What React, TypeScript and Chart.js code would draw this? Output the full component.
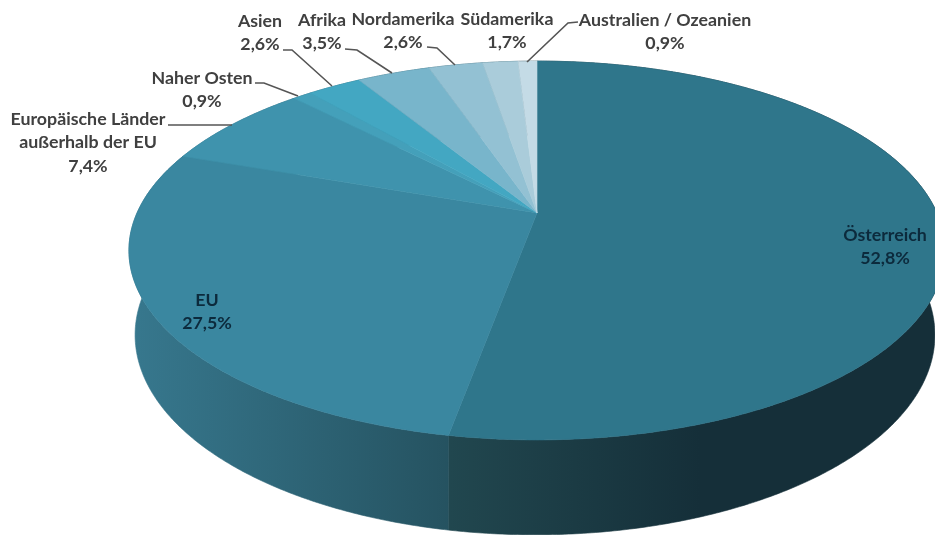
import React, { useEffect, useRef } from "react";
import { Chart, registerables } from "chart.js";

Chart.register(...registerables);

const categories = ["Österreich", "EU", "Europäische Länder außerhalb der EU", "Naher Osten", "Asien", "Afrika", "Nordamerika", "Südamerika", "Australien / Ozeanien"];
const shares = [52.8, 27.5, 7.4, 0.9, 2.6, 3.5, 2.6, 1.7, 0.9];
const topColors = ["#2f768b", "#3a87a0", "#3f93ad", "#44a0ba", "#43a7c2", "#78b5cb", "#93c1d3", "#aaccda", "#c4dbe6"];
const sideLeft = ["#21474f", "#37788e", "#37788e", "#37788e", "#37788e", "#37788e", "#37788e", "#37788e", "#21474f"];
const sideRight = ["#152f39", "#255260", "#255260", "#255260", "#255260", "#255260", "#255260", "#255260", "#152f39"];

type Lbl = { lines: string[]; x: number; y: number; inside?: boolean };
const labels: Lbl[] = [
  { lines: ["Österreich", "52,8%"], x: 885, y: 235, inside: true },
  { lines: ["EU", "27,5%"], x: 207, y: 300, inside: true },
  { lines: ["Europäische Länder", "außerhalb der EU", "7,4%"], x: 88, y: 119 },
  { lines: ["Naher Osten", "0,9%"], x: 202, y: 78 },
  { lines: ["Asien", "2,6%"], x: 260, y: 21 },
  { lines: ["Afrika", "3,5%"], x: 322, y: 20 },
  { lines: ["Nordamerika", "2,6%"], x: 403, y: 19 },
  { lines: ["Südamerika", "1,7%"], x: 507, y: 19 },
  { lines: ["Australien / Ozeanien", "0,9%"], x: 665, y: 20 },
];
const leaders: number[][][] = [
  [[168, 125], [232, 125]],
  [[255, 83], [264, 83], [298, 96]],
  [[283, 50], [292, 50], [332, 86]],
  [[345, 49], [357, 50], [392, 73]],
  [[427, 47], [437, 48], [455, 65]],
  [[578, 22], [568, 23], [527, 62]],
];

// perspective view of the disc: the circle's centre sits above the ellipse's centre
const K = 0.198;
const topDisc = { x: 537, y: 213, bx: 400, ay: 182 };
const lowDisc = { x: 535, y: 295.4, bx: 392, ay: 192 };
const project = (d: typeof topDisc, a: number) => {
  const t = a + Math.PI / 2;
  const u = Math.sin(t);
  const v = Math.cos(t);
  const den = 1 + K * v;
  return [d.x + (d.bx * u) / den, d.y - (d.ay * v) / den];
};

const pie3d = {
  id: "pie3d",
  beforeDatasetDraw(chart: any) {
    const ctx: CanvasRenderingContext2D = chart.ctx;
    const arcs = chart.getDatasetMeta(0).data;
    const sample = (arc: any) => {
      const n = Math.max(2, Math.ceil((arc.endAngle - arc.startAngle) / 0.008));
      const out: number[] = [];
      for (let i = 0; i <= n; i++) out.push(arc.startAngle + ((arc.endAngle - arc.startAngle) * i) / n);
      return out;
    };
    ctx.save();
    ctx.filter = "blur(0.5px)";
    // side wall
    arcs.forEach((arc: any, i: number) => {
      const angles = sample(arc);
      const g = ctx.createLinearGradient(i === 0 ? 450 : 130, 0, i === 0 ? 700 : 452, 0);
      g.addColorStop(0, sideLeft[i]);
      g.addColorStop(1, sideRight[i]);
      ctx.fillStyle = g;
      ctx.strokeStyle = g;
      ctx.lineWidth = 0.6;
      ctx.beginPath();
      angles.forEach((a, j) => {
        const p = project(topDisc, a);
        j ? ctx.lineTo(p[0], p[1]) : ctx.moveTo(p[0], p[1]);
      });
      [...angles].reverse().forEach((a) => {
        const p = project(lowDisc, a);
        ctx.lineTo(p[0], p[1]);
      });
      ctx.closePath();
      ctx.fill();
      ctx.stroke();
    });
    // top face
    arcs.forEach((arc: any, i: number) => {
      ctx.fillStyle = topColors[i];
      ctx.strokeStyle = topColors[i];
      ctx.lineWidth = 0.6;
      ctx.beginPath();
      ctx.moveTo(topDisc.x, topDisc.y);
      sample(arc).forEach((a) => {
        const p = project(topDisc, a);
        ctx.lineTo(p[0], p[1]);
      });
      ctx.closePath();
      ctx.fill();
      ctx.stroke();
    });
    ctx.restore();
    return false;
  },
  afterDatasetsDraw(chart: any) {
    const ctx: CanvasRenderingContext2D = chart.ctx;
    ctx.save();
    ctx.filter = "blur(0.7px)";
    ctx.strokeStyle = "#555555";
    ctx.lineWidth = 1.6;
    leaders.forEach((l) => {
      ctx.beginPath();
      l.forEach((p, j) => (j ? ctx.lineTo(p[0], p[1]) : ctx.moveTo(p[0], p[1])));
      ctx.stroke();
    });
    ctx.font = "bold 17.8px Lato";
    ctx.textAlign = "center";
    ctx.textBaseline = "middle";
    labels.forEach((l) => {
      ctx.fillStyle = l.inside ? "#0c2a3c" : "#404040";
      l.lines.forEach((t, j) => ctx.fillText(t, l.x, l.y + j * 23.7));
    });
    ctx.restore();
  },
};

export default function App() {
  const ref = useRef<HTMLCanvasElement>(null);
  useEffect(() => {
    const chart = new Chart(ref.current as HTMLCanvasElement, {
      type: "pie",
      data: { labels: categories, datasets: [{ data: shares, backgroundColor: topColors, borderWidth: 0 }] },
      options: {
        animation: false,
        responsive: false,
        plugins: { legend: { display: false }, tooltip: { enabled: false }, title: { display: false } },
      },
      plugins: [pie3d],
    } as any);
    return () => chart.destroy();
  }, []);
  return (
    <canvas
      ref={ref}
      width={935}
      height={535}
      style={{ position: "absolute", left: 0, top: 0, width: 935, height: 535, display: "block", background: "#fff" }}
    />
  );
}
